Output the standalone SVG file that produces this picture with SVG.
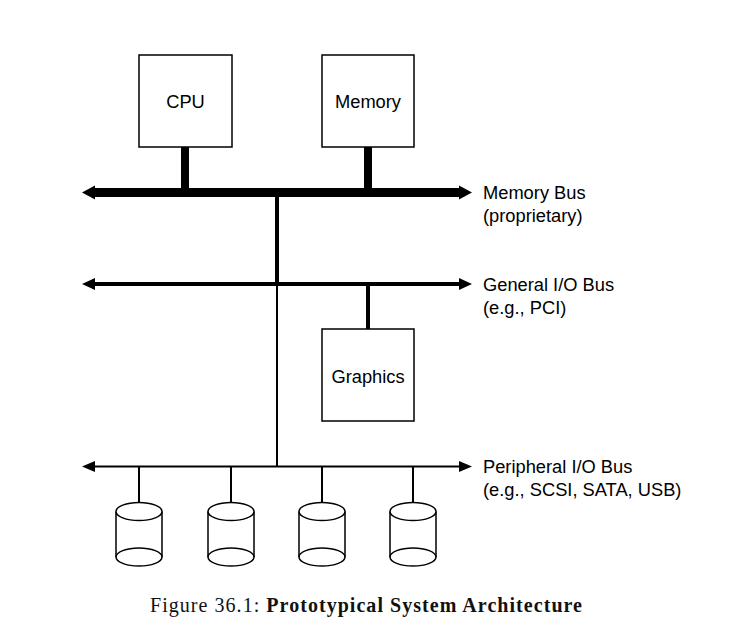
<svg xmlns="http://www.w3.org/2000/svg" width="753" height="624" viewBox="0 0 753 624">
<style>
.box{fill:#fff;stroke:#000;stroke-width:1.5}
.lbl{font-family:"Liberation Sans",Arial,sans-serif;font-size:18.3px;fill:#000}
.mid{text-anchor:middle;dominant-baseline:central}
.disk{fill:#fff;stroke:#000;stroke-width:1.5}
.cap{font-family:"Liberation Serif","Times New Roman",serif;font-size:20px;fill:#111}
</style>
<defs>
<g id="cyl">
<path d="M-23,0 V45.5 A23,9 0 0 0 23,45.5 V0" class="disk"/>
<ellipse cx="0" cy="0" rx="23" ry="9" class="disk"/>
<path d="M-23,45.5 A23,9 0 0 1 23,45.5" fill="none" stroke="#000" stroke-width="1.5"/>
</g>
</defs>
<rect width="753" height="624" fill="#fff"/>

<g id="connectors" stroke="#000" fill="none">
<line x1="185" y1="147" x2="185" y2="192" stroke-width="8"/>
<line x1="368" y1="147" x2="368" y2="192" stroke-width="8"/>
<line x1="277" y1="192" x2="277" y2="284" stroke-width="4"/>
<line x1="277" y1="284" x2="277" y2="467" stroke-width="2"/>
<line x1="368" y1="284" x2="368" y2="329" stroke-width="4"/>
<line x1="139" y1="466.5" x2="139" y2="502" stroke-width="2"/>
<line x1="231" y1="466.5" x2="231" y2="502" stroke-width="2"/>
<line x1="322" y1="466.5" x2="322" y2="502" stroke-width="2"/>
<line x1="413" y1="466.5" x2="413" y2="502" stroke-width="2"/>
</g>

<g id="memory-bus">
<line x1="92" y1="192.5" x2="462" y2="192.5" stroke="#000" stroke-width="9"/>
<path d="M82,192.5 L95,185.5 L95,199.5 Z M472,192.5 L459,185.5 L459,199.5 Z" fill="#000"/>
<text class="lbl" x="483" y="199">Memory Bus</text>
<text class="lbl" x="483" y="222">(proprietary)</text>
</g>
<g id="general-bus">
<line x1="92" y1="284" x2="462" y2="284" stroke="#000" stroke-width="4"/>
<path d="M82,284 L95,278 L95,290 Z M472,284 L459,278 L459,290 Z" fill="#000"/>
<text class="lbl" x="483" y="291">General I/O Bus</text>
<text class="lbl" x="483" y="314">(e.g., PCI)</text>
</g>
<g id="peripheral-bus">
<line x1="92" y1="466.5" x2="462" y2="466.5" stroke="#000" stroke-width="2"/>
<path d="M82,466.5 L95,461 L95,472 Z M472,466.5 L459,461 L459,472 Z" fill="#000"/>
<text class="lbl" x="483" y="473">Peripheral I/O Bus</text>
<text class="lbl" x="483" y="496">(e.g., SCSI, SATA, USB)</text>
</g>

<g id="cpu">
<rect class="box" x="139" y="55" width="93" height="92"/>
<text class="lbl mid" x="185.5" y="101">CPU</text>
</g>
<g id="memory">
<rect class="box" x="322" y="55" width="92" height="92"/>
<text class="lbl mid" x="368" y="101">Memory</text>
</g>
<g id="graphics">
<rect class="box" x="322" y="329" width="92" height="92"/>
<text class="lbl mid" x="368" y="376">Graphics</text>
</g>

<g id="disk1"><use href="#cyl" x="139" y="511.5"/></g>
<g id="disk2"><use href="#cyl" x="231" y="511.5"/></g>
<g id="disk3"><use href="#cyl" x="322" y="511.5"/></g>
<g id="disk4"><use href="#cyl" x="413" y="511.5"/></g>

<g id="caption">
<text class="cap" x="150" y="612" textLength="432" lengthAdjust="spacing">Figure 36.1: <tspan font-weight="bold">Prototypical System Architecture</tspan></text>
</g>
</svg>
